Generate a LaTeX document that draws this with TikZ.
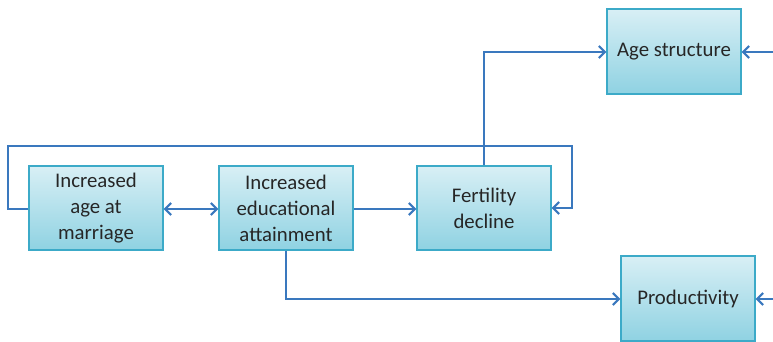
\documentclass[tikz,border=0pt]{standalone}
\usepackage{fontspec}
\setmainfont{Carlito}
\usetikzlibrary{arrows.meta}
\definecolor{boxtop}{RGB}{216,239,245}
\definecolor{boxbot}{RGB}{143,210,226}
\definecolor{boxline}{RGB}{60,170,200}
\definecolor{linkc}{RGB}{58,120,190}
\definecolor{txt}{RGB}{38,38,38}
\tikzset{
  box/.style={draw=boxline, line width=1.2pt, top color=boxtop, bottom color=boxbot,
    minimum width=134pt, minimum height=84pt, inner sep=0pt, align=center,
    text=txt, font=\fontsize{20.8}{26}\selectfont},
  tip/.tip={Straight Barb[length=6pt,width=12pt,line width=2.2pt]},
  link/.style={draw=linkc, line width=2.9pt, -tip},
  dlink/.style={draw=linkc, line width=2.9pt, tip-tip}
}
\begin{document}
\begin{tikzpicture}[x=1pt,y=-1pt]
\useasboundingbox (0,0) rectangle (773,341);
\node[box] (b1) at (96,208) {Increased\\age at\\marriage};
\node[box] (b2) at (286,208) {Increased\\educational\\attainment};
\node[box] (b3) at (484,208) {Fertility\\decline};
\node[box, minimum height=85pt] (age) at (674,51.5) {Age structure};
\node[box, minimum height=85pt] (prod) at (688,298.5) {Productivity};
\coordinate (c1) at (8,146);
\coordinate (c2) at (572,146);
\coordinate (r1) at (775,52);
\coordinate (r2) at (775,299);
\draw[link] (b1.west |- 0,209) -| (c1) -| (c2) |- (b3.east |- 0,208);
\draw[dlink] (b1.east |- 0,209) -- (b2.west |- 0,209);
\draw[link] (b2.east |- 0,209) -- (b3.west |- 0,209);
\draw[link] (b3.north) |- (age.west |- 0,52);
\draw[link] (b2.south) |- (prod.west |- 0,299);
\draw[link] (r1) -- (age.east |- r1);
\draw[link] (r2) -- (prod.east |- r2);
\end{tikzpicture}
\end{document}
